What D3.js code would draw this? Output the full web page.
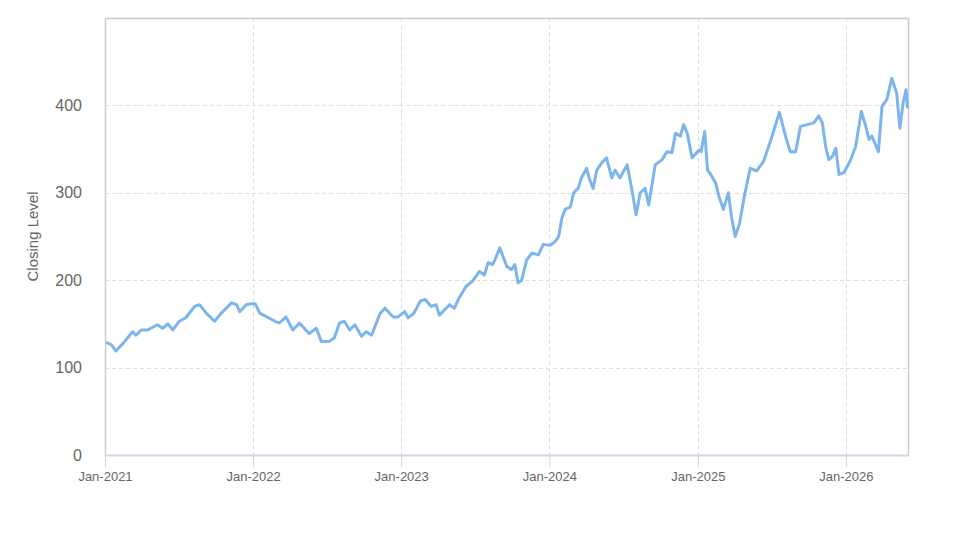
<!DOCTYPE html>
<html>
<head>
<meta charset="utf-8">
<script src="https://cdn.jsdelivr.net/npm/d3@7"></script>
<style>
  body { margin: 0; background: #fff; }
  #linechart text { font-family: "Liberation Sans", Arial, sans-serif; fill: #666; }
</style>
</head>
<body>
<div id="linechart"></div>
<script>
// closing level readings, roughly twice a month
const dates = [
    "2021-01-04", "2021-01-17", "2021-01-28", "2021-02-15", "2021-03-10", "2021-03-18", "2021-03-31",
    "2021-04-16", "2021-05-10", "2021-05-23", "2021-06-05", "2021-06-17", "2021-07-03", "2021-07-19",
    "2021-08-10", "2021-08-22", "2021-09-08", "2021-09-28", "2021-10-14", "2021-11-09", "2021-11-21",
    "2021-11-29", "2021-12-15", "2021-12-28", "2022-01-06", "2022-01-18", "2022-02-08", "2022-02-24",
    "2022-03-07", "2022-03-23", "2022-04-09", "2022-04-25", "2022-05-19", "2022-06-06", "2022-06-18",
    "2022-07-08", "2022-07-20", "2022-08-02", "2022-08-14", "2022-08-27", "2022-09-09", "2022-09-25",
    "2022-10-07", "2022-10-20", "2022-11-10", "2022-11-22", "2022-12-12", "2022-12-24", "2023-01-10",
    "2023-01-18", "2023-02-01", "2023-02-17", "2023-03-01", "2023-03-16", "2023-03-28", "2023-04-05",
    "2023-04-30", "2023-05-12", "2023-05-24", "2023-06-10", "2023-06-26", "2023-07-13", "2023-07-25",
    "2023-08-03", "2023-08-15", "2023-09-01", "2023-09-09", "2023-09-18", "2023-09-30", "2023-10-08",
    "2023-10-16", "2023-10-25", "2023-11-06", "2023-11-19", "2023-12-05", "2023-12-17", "2024-01-03",
    "2024-01-15", "2024-01-24", "2024-02-01", "2024-02-09", "2024-02-22", "2024-03-01", "2024-03-12",
    "2024-03-20", "2024-04-02", "2024-04-08", "2024-04-18", "2024-04-27", "2024-05-09", "2024-05-21",
    "2024-06-03", "2024-06-11", "2024-06-23", "2024-07-11", "2024-07-22", "2024-08-02", "2024-08-12",
    "2024-08-24", "2024-09-02", "2024-09-18", "2024-10-05", "2024-10-17", "2024-10-29", "2024-11-07",
    "2024-11-19", "2024-11-27", "2024-12-06", "2024-12-18", "2025-01-04", "2025-01-09", "2025-01-18",
    "2025-01-25", "2025-02-02", "2025-02-14", "2025-02-22", "2025-03-05", "2025-03-17", "2025-03-25",
    "2025-04-03", "2025-04-14", "2025-04-24", "2025-05-10", "2025-05-26", "2025-06-12", "2025-06-29",
    "2025-07-13", "2025-07-21", "2025-08-05", "2025-08-17", "2025-08-30", "2025-09-11", "2025-09-28",
    "2025-10-14", "2025-10-26", "2025-11-04", "2025-11-12", "2025-11-20", "2025-11-29", "2025-12-07",
    "2025-12-15", "2025-12-27", "2026-01-13", "2026-01-25", "2026-02-08", "2026-02-19", "2026-02-27",
    "2026-03-06", "2026-03-22", "2026-03-31", "2026-04-12", "2026-04-24", "2026-05-06", "2026-05-14",
    "2026-05-22", "2026-05-29", "2026-06-02"
];
const closes = [
    129, 126, 119, 128, 141, 137, 143,
    143, 149, 145, 150, 143, 153, 157,
    170, 172, 162, 153, 162, 174, 172,
    164, 172, 173, 173, 162, 157, 153,
    151, 158, 143, 151, 139, 145, 130,
    130, 134, 151, 153, 143, 149, 136,
    141, 137, 162, 168, 158, 158, 164,
    157, 162, 176, 178, 170, 172, 160,
    172, 168, 180, 193, 199, 210, 206,
    220, 218, 237, 227, 216, 212, 218,
    197, 200, 223, 231, 229, 241, 240,
    244, 250, 271, 281, 284, 300, 305,
    317, 328, 317, 305, 326, 334, 340,
    317, 326, 317, 332, 305, 275, 300,
    305, 286, 332, 338, 347, 346, 368,
    365, 378, 368, 340, 349, 347, 370,
    326, 321, 311, 296, 281, 300, 273,
    250, 265, 292, 328, 325, 336, 359,
    380, 392, 365, 347, 347, 376, 378,
    380, 388, 380, 353, 338, 342, 351,
    321, 323, 338, 353, 393, 376, 361,
    365, 347, 399, 407, 431, 414, 374,
    403, 418, 397
];
const yTicks = [0, 100, 200, 300, 400];
const xTickYears = [2021, 2022, 2023, 2024, 2025, 2026];
const xStart = "2021-01-01", xEnd = "2026-06-03";
const yMax = 500;

const parse = d3.timeParse("%Y-%m-%d");
const data = dates.map((d, i) => ({ date: parse(d), close: closes[i] }));

const margin = { top: 18, right: 66, bottom: 92, left: 105 },
    width = 974 - margin.left - margin.right,
    height = 547 - margin.top - margin.bottom;

const svg = d3.select("#linechart")
    .append("svg")
    .attr("width", 974)
    .attr("height", 547)
    .append("g")
    .attr("transform", "translate(" + margin.left + "," + margin.top + ")");

const x = d3.scaleTime()
    .domain([parse(xStart), parse(xEnd)])
    .range([0, width]);

const y = d3.scaleLinear()
    .domain([0, yMax])
    .range([height, 0]);

// grid lines
svg.append("g")
    .selectAll("line")
    .data(yTicks.slice(1))
    .join("line")
    .attr("x1", 0)
    .attr("x2", width)
    .attr("y1", d => Math.round(y(d)) + 0.5)
    .attr("y2", d => Math.round(y(d)) + 0.5)
    .style("stroke", "#dddddd")
    .style("stroke-dasharray", "4,3");

const yearDates = xTickYears.map(yr => new Date(yr, 0, 1));

svg.append("g")
    .selectAll("line")
    .data(yearDates.slice(1))
    .join("line")
    .attr("x1", d => Math.round(x(d)) + 0.5)
    .attr("x2", d => Math.round(x(d)) + 0.5)
    .attr("y1", 0)
    .attr("y2", height)
    .style("stroke", "#dddddd")
    .style("stroke-dasharray", "4,3");

// plot border
svg.append("rect")
    .attr("x", 0.5)
    .attr("y", 0.5)
    .attr("width", width)
    .attr("height", height)
    .style("fill", "none")
    .style("stroke", "#cccccc")
    .style("stroke-width", 1.5);

// X axis
const xAxis = svg.append("g")
    .attr("transform", "translate(0," + height + ")")
    .call(d3.axisBottom(x)
        .tickValues(yearDates)
        .tickFormat(d3.timeFormat("%b-%Y"))
        .tickSize(12)
        .tickSizeOuter(0)
        .tickPadding(5));
xAxis.select(".domain").style("stroke", "#ccd6eb").style("stroke-width", 1.5);
xAxis.selectAll(".tick line").style("stroke", "#ccd6eb");
xAxis.selectAll("text").style("font-size", "13px");

// Y axis
const yAxis = svg.append("g")
    .call(d3.axisLeft(y)
        .tickValues(yTicks)
        .tickSize(0)
        .tickPadding(23));
yAxis.select(".domain").remove();
yAxis.selectAll("text").style("font-size", "16px");

svg.append("text")
    .attr("transform", "rotate(-90)")
    .attr("x", -height / 2)
    .attr("y", -67)
    .attr("text-anchor", "middle")
    .style("font-size", "15px")
    .text("Closing Level");

// Line generator
const line = d3.line()
    .x(d => x(d.date))
    .y(d => y(d.close));

svg.append("path")
    .datum(data)
    .attr("fill", "none")
    .attr("stroke", "#7cb5ec")
    .attr("stroke-width", 3)
    .attr("stroke-linejoin", "round")
    .attr("d", line);
</script>
</body>
</html>
